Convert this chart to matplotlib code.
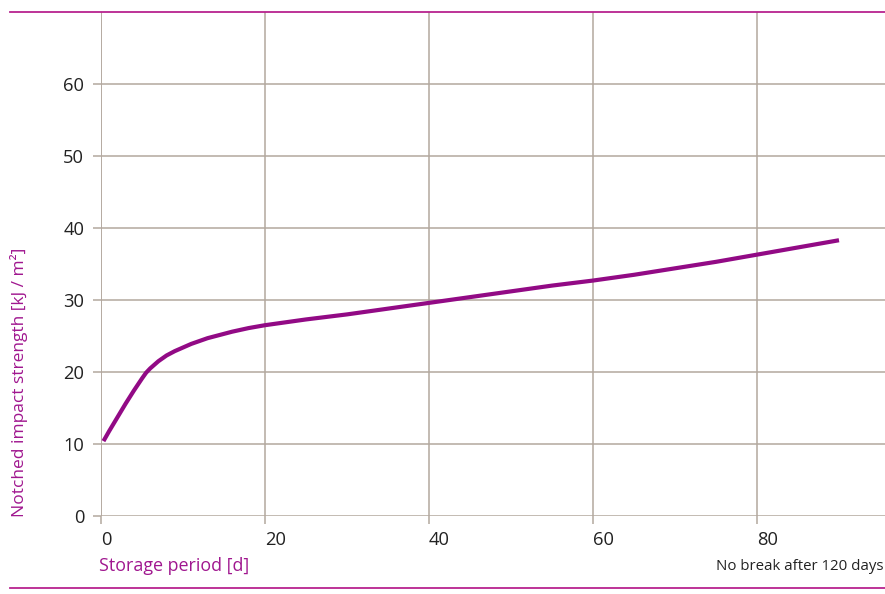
import numpy as np
import matplotlib.pyplot as plt
from matplotlib.lines import Line2D

plt.rcParams["font.family"] = ["Open Sans", "DejaVu Sans"]

# storage period [d] and notched impact strength [kJ/m2]
days = [0.3, 1, 2, 3, 4, 5, 5.5, 6, 7, 8, 9, 10, 11, 12, 13, 14, 16, 18, 20,
        25, 30, 35, 40, 45, 50, 55, 60, 65, 70, 75, 80, 85, 90]
strength = [10.4, 11.8, 13.7, 15.6, 17.4, 19.1, 19.9, 20.5, 21.5, 22.3, 22.9,
            23.4, 23.9, 24.3, 24.7, 25.0, 25.6, 26.1, 26.5, 27.3, 28.0, 28.8,
            29.6, 30.4, 31.2, 32.0, 32.7, 33.5, 34.4, 35.3, 36.3, 37.3, 38.3]
xticks = [0, 20, 40, 60, 80]
yticks = [0, 10, 20, 30, 40, 50, 60]

line_col = "#920a85"
label_col = "#a0178f"
rule_col = "#b8238f"
grid_col = "#b3a89e"
text_col = "#222222"


def main():
    W, H = 885, 594
    fig = plt.figure(figsize=(W / 100, H / 100), dpi=100)
    ax = fig.add_axes([101 / W, 1 - 516 / H, (885 - 101) / W, (516 - 12) / H])

    ax.plot(days, strength, color=line_col, lw=3.0, solid_capstyle="butt",
            solid_joinstyle="round", zorder=3)

    ax.set_xlim(0, (885 - 101) / 8.2)
    ax.set_ylim(0, 70)
    ax.set_xticks(xticks)
    ax.set_yticks(yticks)
    ax.grid(True, color=grid_col, lw=1.1)
    for s in ax.spines.values():
        s.set_visible(False)
    ax.tick_params(axis="both", color=grid_col, width=1.1, length=6,
                   labelsize=13.2, labelcolor=text_col)
    ax.tick_params(axis="x", pad=5)
    ax.tick_params(axis="y", pad=6)
    for lab in ax.get_xticklabels():
        lab.set_horizontalalignment("left")
    ax.axvline(0, color=grid_col, lw=1.1, zorder=1)

    # pink rules top and bottom
    fig.add_artist(Line2D([10 / W, 1], [1 - 12 / H] * 2, color=rule_col, lw=1.3))
    fig.add_artist(Line2D([10 / W, 1], [1 - 588 / H] * 2, color=rule_col, lw=1.3))

    fig.text(99 / W, 1 - 566 / H, "Storage period [d]", color=label_col,
             fontsize=12.9, ha="left", va="center")
    fig.text(884 / W, 1 - 567 / H, "No break after 120 days", color=text_col,
             fontsize=10.8, ha="right", va="center")
    fig.text(19 / W, 1 - 517 / H, "Notched impact strength [kJ / m²]",
             color=label_col, fontsize=12.5, rotation=90, ha="center", va="bottom")

    fig.savefig("out.png", dpi=100)


if __name__ == '__main__':
    main()
